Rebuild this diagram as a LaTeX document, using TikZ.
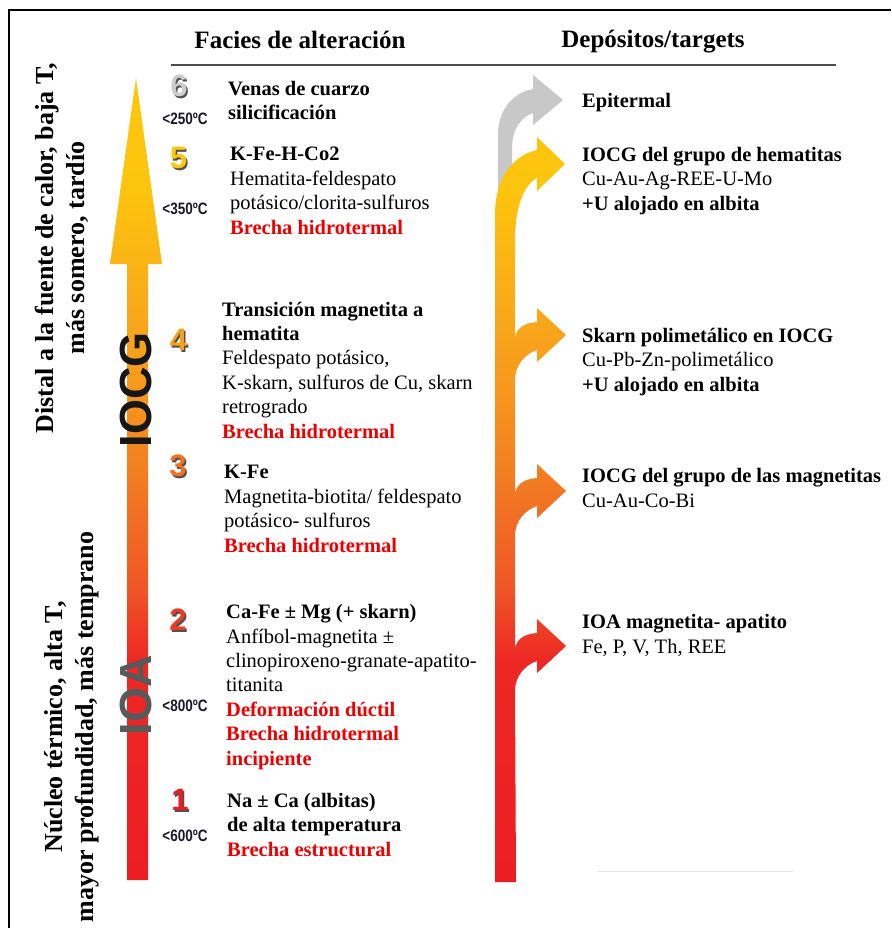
\documentclass[tikz,border=0pt]{standalone}
\usepackage{fontspec}
\setmainfont{Liberation Serif}
\newfontfamily\arialfont{Liberation Sans}

\definecolor{heatA}{RGB}{253,199,12}
\definecolor{heatB}{RGB}{253,196,13}
\definecolor{heatC}{RGB}{249,174,25}
\definecolor{heatD}{RGB}{246,149,30}
\definecolor{heatE}{RGB}{242,120,35}
\definecolor{heatF}{RGB}{239,85,38}
\definecolor{heatG}{RGB}{237,40,36}
\definecolor{heatH}{RGB}{237,28,36}
\definecolor{epigris}{RGB}{200,200,200}
\definecolor{rojobrecha}{RGB}{238,0,0}
\definecolor{tempcol}{RGB}{25,25,40}
\definecolor{iocgcol}{RGB}{22,22,22}
\definecolor{ioacol}{RGB}{88,89,91}
\definecolor{numsix}{RGB}{205,205,205}
\definecolor{numfive}{RGB}{253,199,12}
\definecolor{numfour}{RGB}{247,160,30}
\definecolor{numthree}{RGB}{243,112,34}
\definecolor{numtwo}{RGB}{238,58,36}
\definecolor{numone}{RGB}{237,28,36}
\definecolor{numshadow}{RGB}{80,80,80}

\newcommand{\rojo}[1]{\textcolor{rojobrecha}{\textbf{#1}}}

\tikzset{
  txt/.style={anchor=base west, align=left, inner sep=0pt, font=\fontsize{20.5}{24.4}\selectfont},
  head/.style={inner sep=0pt, font=\fontsize{25}{30}\selectfont\bfseries},
  side/.style={rotate=90, align=center, inner sep=0pt, font=\fontsize{26}{31}\selectfont\bfseries},
  temp/.style={inner sep=0pt, xscale=0.82, text=tempcol, font=\arialfont\bfseries\fontsize{16.5}{18}\selectfont},
  numb/.style={inner sep=0pt, font=\arialfont\bfseries\fontsize{31}{32}\selectfont},
  facies/.style={rotate=90, inner sep=0pt, font=\arialfont\bfseries\fontsize{45}{45}\selectfont}
}

\begin{document}
\begin{tikzpicture}[x=1pt,y=-1pt]
\useasboundingbox (0,0) rectangle (891,928);

\draw[line width=2.5pt] (9,928) -- (9,10) -- (891,10);
\draw[line width=2pt, gray!60!black] (171,65) -- (836,65);
\draw[line width=0.8pt, gray!20] (597,871) -- (793,871);

\node[head] (facies) at (300,40) {Facies de alteración};
\node[head] (depositos) at (653,42) {Depósitos/targets};

\node[side] (distal) at (62,248) {Distal a la fuente de calor, baja T,\\ más somero, tardío};
\node[side] (nucleo) at (72,727) {Núcleo térmico, alta T,\\ mayor profundidad, más temprano};

\fill[epigris] (498,205) -- (498,135) .. controls (498,108) and (515,92) .. (533,89)
  -- (533,75) -- (563,100) -- (533,125) -- (533,113)
  .. controls (522,117) and (512,128) .. (512,148) -- (512,205) -- cycle;

\begin{scope}
\clip (127,880) -- (127,264) -- (110,264) -- (136,78) -- (162,264) -- (148,264) -- (148,880) -- cycle
  (495,882) -- (495,215) .. controls (495,175) and (515,155) .. (537,150)
  -- (537,137) -- (565,164) -- (537,191) -- (537,178)
  .. controls (525,184) and (515,205) .. (515,240)
  \foreach \ty in {335,491,646}{
    -- (515,\ty+5) .. controls (515,\ty-5) and (522,\ty-12) .. (537,\ty-13)
    -- (537,\ty-27) -- (566,\ty) -- (537,\ty+27) -- (537,\ty+15)
    .. controls (525,\ty+19) and (515,\ty+30) .. (515,\ty+45)}
  -- (516,882) -- cycle;
\foreach \ya/\yb/\ca/\cb in {70/190/heatA/heatB, 190/290/heatB/heatC, 290/400/heatC/heatD,
  400/490/heatD/heatE, 490/590/heatE/heatF, 590/660/heatF/heatG, 660/890/heatG/heatH}
  \shade[top color=\ca, bottom color=\cb] (100,\ya-0.5) rectangle (580,\yb+0.5);
\end{scope}

\node[facies, text=iocgcol] (iocg) at (136,390) {IOCG};
\node[facies, text=ioacol] (ioa) at (136,695) {IOA};

\foreach \n/\xx/\yy/\cf in {6/179/86/numsix, 5/178.5/158/numfive, 4/178.5/340/numfour,
  3/178/466/numthree, 2/178/620/numtwo, 1/180/800/numone}{
  \node[numb, text=numshadow] (s\n) at (\xx+1.5,\yy+1.5) {\n};
  \node[numb, text=\cf] (n\n) at (\xx,\yy) {\n};
}

\node[temp] (t250) at (185,119) {<250ºC};
\node[temp] (t350) at (185,209) {<350ºC};
\node[temp] (t800) at (185,706) {<800ºC};
\node[temp] (t600) at (185,836) {<600ºC};

\node[txt] (f6) at (228,120) {\textbf{Venas de cuarzo}\\\textbf{silicificación}};
\node[txt] (f5) at (230,234) {\textbf{K-Fe-H-Co2}\\Hematita-feldespato\\potásico/clorita-sulfuros\\\rojo{Brecha hidrotermal}};
\node[txt] (f4) at (222,438) {\textbf{Transición magnetita a}\\\textbf{hematita}\\Feldespato potásico,\\K-skarn, sulfuros de Cu, skarn\\retrogrado\\\rojo{Brecha hidrotermal}};
\node[txt] (f3) at (224,552) {\textbf{K-Fe}\\Magnetita-biotita/ feldespato\\potásico- sulfuros\\\rojo{Brecha hidrotermal}};
\node[txt] (f2) at (226,765) {\textbf{Ca-Fe ± Mg (+ skarn)}\\Anfíbol-magnetita ±\\clinopiroxeno-granate-apatito-\\titanita\\\rojo{Deformación dúctil}\\\rojo{Brecha hidrotermal}\\\rojo{incipiente}};
\node[txt] (f1) at (227,856) {\textbf{Na ± Ca (albitas)}\\\textbf{de alta temperatura}\\\rojo{Brecha estructural}};

\node[txt] (d6) at (582,108) {\textbf{Epitermal}};
\node[txt] (d5) at (582,210) {\textbf{IOCG del grupo de hematitas}\\Cu-Au-Ag-REE-U-Mo\\\textbf{+U alojado en albita}};
\node[txt] (d4) at (582,391) {\textbf{Skarn polimetálico en IOCG}\\Cu-Pb-Zn-polimetálico\\\textbf{+U alojado en albita}};
\node[txt] (d3) at (582,507) {\textbf{IOCG del grupo de las magnetitas}\\Cu-Au-Co-Bi};
\node[txt] (d2) at (582,653) {\textbf{IOA magnetita- apatito}\\Fe, P, V, Th, REE};
\end{tikzpicture}
\end{document}
